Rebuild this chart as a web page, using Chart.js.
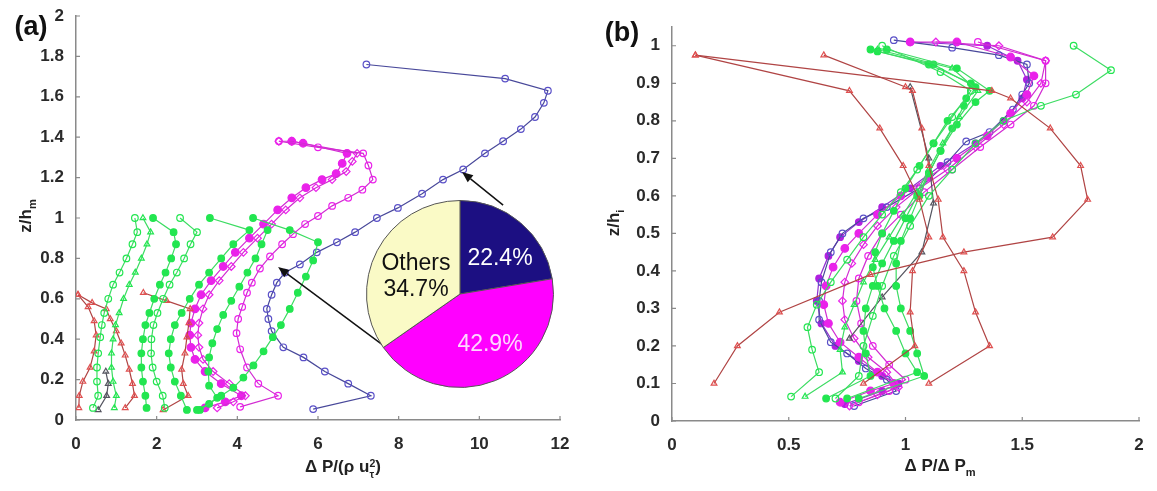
<!DOCTYPE html>
<html>
<head>
<meta charset="utf-8">
<script src="https://cdn.jsdelivr.net/npm/chart.js@4.4.1/dist/chart.umd.min.js"></script>
<style>
  body { margin: 0; background: #fff; }
  #wrap { position: relative; width: 1157px; height: 491px; overflow: hidden; font-family: 'Liberation Sans', Arial, sans-serif; }
  .box { position: absolute; }
  .txt { position: absolute; transform: translate(-50%, -50%); white-space: nowrap; color: #222; }
  .ttl { font-size: 17px; font-weight: bold; }
  .ttl sub { font-size: 0.65em; vertical-align: -0.45em; line-height: 0; }
  .stack { display: inline-block; vertical-align: -0.55em; font-size: 0.62em; line-height: 1em; text-align: left; }
  .stack span { display: block; }
  .panel { font-size: 27px; font-weight: bold; color: #111; }
  .pie { font-size: 23px; }
</style>
</head>
<body>
<div id="wrap">
  <div class="box" style="left:0;top:0;width:580px;height:491px"><canvas id="chartA"></canvas></div>
  <div class="box" style="left:580px;top:0;width:577px;height:491px"><canvas id="chartB"></canvas></div>
  <div class="box" style="left:366px;top:200px;width:188px;height:188px"><canvas id="pieChart"></canvas></div>

  <div class="txt panel" style="left:31px;top:26px">(a)</div>
  <div class="txt panel" style="left:622px;top:32px">(b)</div>

  <div class="txt ttl" style="left:26px;top:216px;transform:translate(-50%,-50%) rotate(-90deg)">z/h<sub>m</sub></div>
  <div class="txt ttl" style="left:343px;top:468px">&Delta; P/(&rho; u<span class="stack"><span>2</span><span>&tau;</span></span>)</div>
  <div class="txt ttl" style="left:614px;top:223px;transform:translate(-50%,-50%) rotate(-90deg)">z/h<sub>i</sub></div>
  <div class="txt ttl" style="left:940px;top:466px">&Delta; P/&Delta; P<sub>m</sub></div>

  <div class="txt pie" style="left:500px;top:257px;color:#fff">22.4%</div>
  <div class="txt pie" style="left:490px;top:343px;color:#ffd6ff">42.9%</div>
  <div class="txt pie" style="left:416px;top:262px;color:#111">Others</div>
  <div class="txt pie" style="left:416px;top:288px;color:#111">34.7%</div>
</div>

<script>
// ── tick values ─────────────────────────────────────────────────────
const ticksAX = [0, 2, 4, 6, 8, 10, 12];
const ticksAY = [0, 0.2, 0.4, 0.6, 0.8, 1, 1.2, 1.4, 1.6, 1.8, 2];
const ticksBX = [0, 0.5, 1, 1.5, 2];
const ticksBY = [0, 0.1, 0.2, 0.3, 0.4, 0.5, 0.6, 0.7, 0.8, 0.9, 1];

// ── panel (a): ΔP/(ρ u_τ²) vs z/h_m ────────────────────────────────
const redA1 = [[0.05,0.62],[0.4,0.58],[0.75,0.55],[0.85,0.5],[1.0,0.44],[1.12,0.38],[1.22,0.32],[1.32,0.25],[1.4,0.18],[1.45,0.12],[1.22,0.06]];
const redA2 = [[0.05,0.62],[0.3,0.56],[0.45,0.49],[0.5,0.42],[0.45,0.34],[0.35,0.26],[0.17,0.19],[0.08,0.12],[0.07,0.06]];
const redA3 = [[1.67,0.63],[2.25,0.59],[2.83,0.55],[2.8,0.48],[2.75,0.41],[2.7,0.33],[2.62,0.25],[2.66,0.18],[2.78,0.12],[2.16,0.05]];
const darkA = [[0.55,0.05],[0.76,0.12],[0.8,0.18],[0.74,0.24]];

const greenA1 = [[0.42,0.06],[0.55,0.12],[0.52,0.19],[0.52,0.26],[0.55,0.33],[0.6,0.41],[0.64,0.47],[0.7,0.53],[0.8,0.6],[0.92,0.67],[1.08,0.73],[1.25,0.8],[1.4,0.87],[1.52,0.93],[1.46,1.0]];
const greenA2 = [[0.95,0.06],[1.0,0.12],[0.92,0.19],[0.88,0.26],[0.88,0.33],[0.92,0.4],[0.98,0.47],[1.07,0.53],[1.18,0.6],[1.32,0.67],[1.47,0.73],[1.62,0.8],[1.76,0.87],[1.85,0.93],[1.66,1.0]];
const greenA3 = [[1.75,0.06],[1.72,0.12],[1.66,0.19],[1.62,0.26],[1.62,0.33],[1.66,0.4],[1.72,0.47],[1.82,0.53],[1.94,0.6],[2.08,0.67],[2.22,0.73],[2.36,0.8],[2.48,0.87],[2.42,0.93],[1.91,1.0]];
const greenA4 = [[2.2,0.06],[2.15,0.12],[2.0,0.19],[1.9,0.26],[1.86,0.33],[1.87,0.4],[1.92,0.47],[2.02,0.53],[2.16,0.6],[2.32,0.67],[2.5,0.73],[2.68,0.8],[2.84,0.87],[3.0,0.93],[2.58,1.0]];
const greenA5 = [[2.75,0.05],[2.6,0.12],[2.45,0.19],[2.35,0.26],[2.3,0.33],[2.35,0.4],[2.45,0.47],[2.62,0.53],[2.82,0.6],[3.05,0.67],[3.3,0.73],[3.6,0.8],[3.9,0.87],[4.3,0.94],[3.32,1.0]];
const greenA6 = [[3.07,0.05],[3.5,0.11],[3.3,0.17],[3.28,0.24],[3.3,0.31],[3.38,0.38],[3.5,0.45],[3.65,0.52],[3.85,0.59],[4.05,0.66],[4.25,0.73],[4.45,0.8],[4.6,0.87],[4.75,0.94]];
const greenA7 = [[3.0,0.05],[3.3,0.08],[3.6,0.12],[3.9,0.16],[4.15,0.21],[4.4,0.27],[4.65,0.34],[4.88,0.41],[5.08,0.47],[5.3,0.55],[5.5,0.63],[5.7,0.71],[5.88,0.79],[6.0,0.88],[5.3,0.94],[4.39,1.0]];

const magA1 = [[3.2,0.06],[3.7,0.09],[4.1,0.12],[3.6,0.18],[3.2,0.24],[2.95,0.3],[2.85,0.36],[2.82,0.42],[2.85,0.48],[2.95,0.55],[3.1,0.62],[3.35,0.69],[3.65,0.76],[3.95,0.83],[4.3,0.9],[4.65,0.97],[5.0,1.04],[5.35,1.1],[5.7,1.15],[6.1,1.19],[6.45,1.22],[6.6,1.27],[6.72,1.32],[5.63,1.37],[5.35,1.38]];
const magA2 = [[3.5,0.06],[3.9,0.09],[4.2,0.12],[3.8,0.18],[3.4,0.24],[3.15,0.3],[3.05,0.36],[3.02,0.42],[3.05,0.48],[3.15,0.55],[3.3,0.62],[3.55,0.69],[3.85,0.76],[4.15,0.83],[4.5,0.9],[4.85,0.97],[5.2,1.04],[5.55,1.1],[5.95,1.15],[6.35,1.19],[6.7,1.23],[6.85,1.28],[6.97,1.32],[5.35,1.38],[5.03,1.38]];
const magA3 = [[4.07,0.065],[5.01,0.12],[4.52,0.18],[4.24,0.26],[4.07,0.35],[3.98,0.43],[4.02,0.5],[4.12,0.56],[4.24,0.63],[4.36,0.68],[4.56,0.75],[4.81,0.81],[5.11,0.87],[5.38,0.92],[5.68,0.97],[6.0,1.01],[6.35,1.06],[6.75,1.1],[7.1,1.14],[7.36,1.19],[7.25,1.26],[7.12,1.32],[6.0,1.35],[5.03,1.38]];

const blueA = [[5.88,0.054],[7.31,0.12],[6.75,0.18],[6.17,0.24],[5.64,0.31],[5.14,0.36],[4.85,0.44],[4.77,0.5],[4.73,0.55],[4.85,0.62],[4.98,0.68],[5.18,0.73],[5.55,0.77],[5.97,0.83],[6.47,0.88],[6.92,0.93],[7.46,1.0],[7.98,1.05],[8.58,1.12],[9.1,1.19],[9.6,1.24],[10.14,1.32],[10.59,1.38],[11.03,1.44],[11.38,1.5],[11.6,1.57],[11.7,1.63],[10.64,1.69],[7.2,1.76]];

// ── panel (b): ΔP/ΔP_m vs z/h_i ─────────────────────────────────────
const redB1 = [[0.18,0.1],[0.28,0.2],[0.46,0.29],[0.85,0.39],[1.25,0.45],[1.63,0.49],[1.78,0.59],[1.75,0.68],[1.62,0.78],[1.45,0.86],[1.37,0.88],[0.1,0.975]];
const redB2 = [[0.1,0.975],[0.76,0.88],[0.89,0.78],[0.99,0.68],[1.06,0.59],[1.1,0.49],[1.03,0.4],[1.02,0.29],[1.04,0.2],[0.82,0.1]];
const redB3 = [[0.65,0.975],[1.0,0.89],[1.03,0.88],[1.07,0.78],[1.1,0.68],[1.14,0.59],[1.16,0.49],[1.25,0.4],[1.3,0.29],[1.36,0.2],[1.1,0.1]];
const darkB = [[0.76,0.22],[0.9,0.33],[1.07,0.45],[1.12,0.58],[1.1,0.7],[1.02,0.89]];

const greenB1 = [[0.51,0.065],[0.63,0.13],[0.6,0.19],[0.58,0.25],[0.62,0.31],[0.68,0.37],[0.75,0.43],[0.82,0.49],[0.9,0.55],[0.98,0.61],[1.05,0.67],[1.12,0.74],[1.2,0.81],[1.28,0.88],[1.15,0.93],[0.9,1.0]];
const greenB2 = [[0.57,0.065],[0.73,0.13],[0.72,0.19],[0.74,0.25],[0.78,0.31],[0.82,0.37],[0.87,0.43],[0.93,0.49],[0.99,0.55],[1.05,0.61],[1.1,0.67],[1.16,0.74],[1.23,0.81],[1.31,0.88],[1.2,0.94],[0.88,0.99]];
const greenB3 = [[0.66,0.06],[0.85,0.12],[0.83,0.18],[0.82,0.24],[0.83,0.3],[0.86,0.36],[0.9,0.42],[0.95,0.48],[1.0,0.54],[1.05,0.6],[1.1,0.66],[1.15,0.72],[1.22,0.79],[1.3,0.85],[1.36,0.88],[1.22,0.94],[0.92,0.99]];
const greenB4 = [[0.75,0.06],[1.05,0.13],[1.0,0.18],[0.96,0.24],[0.91,0.3],[0.88,0.36],[0.86,0.41],[0.87,0.45],[0.9,0.5],[0.95,0.56],[1.0,0.62],[1.06,0.68],[1.12,0.74],[1.18,0.8],[1.26,0.86],[1.28,0.9],[1.1,0.95],[0.85,0.99]];
const greenB5 = [[0.8,0.06],[1.08,0.12],[1.05,0.18],[1.02,0.24],[0.98,0.3],[0.96,0.36],[0.96,0.42],[0.98,0.48],[1.02,0.54],[1.06,0.6],[1.1,0.66],[1.15,0.72],[1.2,0.78],[1.25,0.84],[1.3,0.89],[1.12,0.95],[0.88,0.985]];
const greenB6 = [[0.7,0.06],[0.8,0.12],[0.82,0.2],[0.86,0.28],[0.9,0.36],[0.95,0.44],[1.02,0.52],[1.1,0.6],[1.2,0.67],[1.3,0.74],[1.42,0.8],[1.58,0.84],[1.73,0.87],[1.88,0.935],[1.72,1.0]];

const magB1 = [[0.72,0.05],[0.85,0.08],[0.95,0.1],[0.88,0.13],[0.8,0.17],[0.72,0.21],[0.67,0.26],[0.65,0.31],[0.66,0.36],[0.69,0.41],[0.74,0.46],[0.8,0.5],[0.88,0.55],[0.98,0.6],[1.1,0.65],[1.22,0.7],[1.35,0.76],[1.45,0.82],[1.52,0.87],[1.55,0.92],[1.45,0.97],[1.22,1.01],[1.02,1.01]];
const magB2 = [[0.76,0.04],[0.88,0.07],[0.97,0.09],[0.92,0.13],[0.84,0.17],[0.78,0.22],[0.74,0.27],[0.73,0.32],[0.74,0.37],[0.77,0.42],[0.82,0.47],[0.88,0.52],[0.96,0.57],[1.06,0.62],[1.18,0.67],[1.3,0.73],[1.42,0.79],[1.52,0.85],[1.58,0.9],[1.6,0.96],[1.4,1.0],[1.13,1.01]];
const magB3 = [[0.8,0.05],[0.93,0.08],[1.0,0.11],[0.93,0.15],[0.86,0.2],[0.81,0.26],[0.79,0.32],[0.8,0.38],[0.84,0.44],[0.9,0.5],[0.98,0.55],[1.08,0.61],[1.2,0.67],[1.32,0.73],[1.45,0.79],[1.55,0.84],[1.6,0.9],[1.6,0.96],[1.31,1.01]];
const magB4 = [[0.74,0.045],[0.9,0.08],[0.97,0.1],[0.9,0.12],[0.8,0.16],[0.7,0.2],[0.64,0.26],[0.62,0.32],[0.63,0.38],[0.67,0.44],[0.72,0.49],[0.8,0.53],[0.9,0.57],[1.02,0.62],[1.15,0.68],[1.3,0.74],[1.42,0.8],[1.5,0.86],[1.52,0.91],[1.48,0.96],[1.35,1.0],[1.02,1.01]];

const blueB = [[0.78,0.04],[0.96,0.08],[0.92,0.11],[0.83,0.14],[0.75,0.18],[0.68,0.21],[0.63,0.27],[0.63,0.32],[0.64,0.37],[0.68,0.45],[0.73,0.5],[0.82,0.54],[0.92,0.57],[1.06,0.62],[1.18,0.69],[1.26,0.745],[1.36,0.77],[1.46,0.83],[1.5,0.87],[1.53,0.9],[1.52,0.95],[1.4,0.975],[1.2,0.995],[0.95,1.015]];

// ── pie inset ───────────────────────────────────────────────────────
const pieLabels = ['22.4%', '42.9%', 'Others 34.7%'];
const pieValues = [22.4, 42.9, 34.7];

// arrows from the pie to the curves (data units of panel a)
const arrowsA = [
  { from: [7.61, 0.371], to: [5.01, 0.757] },
  { from: [10.59, 1.064], to: [9.57, 1.228] },
];

const RED = '#e05050', RED_LINE = '#b04444';
const GREEN = '#22e650', GREEN_LINE = '#3cdc62';
const MAG = '#ea22ea', MAG_LINE = '#d22cd2';
const BLUE = '#5a50c8', BLUE_LINE = '#48489a';
const DARK = '#555560';
const FONT = { family: "'Liberation Sans', Arial, sans-serif", size: 17, weight: 'bold' };
const TICK_COLOR = '#2a2a2a';
const AXIS_COLOR = '#8a8a8a';

const fmt = v => String(+(+v).toFixed(1));

function series(pairs, color, lineColor, style, filled, r) {
  return {
    data: pairs.map(p => ({ x: p[0], y: p[1] })),
    showLine: true,
    borderColor: lineColor,
    borderWidth: 1.2,
    tension: 0,
    pointStyle: style,
    pointRadius: r || 3.3,
    pointBorderColor: color,
    pointBackgroundColor: filled ? color : 'rgba(255,255,255,0)',
    pointBorderWidth: 1.2,
  };
}

// MATLAB style ticks pointing inwards
const inTicks = {
  id: 'inTicks',
  afterDraw(chart) {
    const { ctx, chartArea } = chart;
    const xs = chart.scales.x, ys = chart.scales.y;
    ctx.save();
    ctx.strokeStyle = AXIS_COLOR;
    ctx.lineWidth = 1.2;
    ctx.beginPath();
    xs.ticks.forEach(t => {
      const px = xs.getPixelForValue(t.value);
      ctx.moveTo(px, chartArea.bottom);
      ctx.lineTo(px, chartArea.bottom - 4);
    });
    ys.ticks.forEach(t => {
      const py = ys.getPixelForValue(t.value);
      ctx.moveTo(chartArea.left, py);
      ctx.lineTo(chartArea.left + 4, py);
    });
    ctx.stroke();
    ctx.restore();
  }
};

const arrows = {
  id: 'arrows',
  afterDatasetsDraw(chart, args, opts) {
    if (!opts.list) return;
    const { ctx } = chart;
    const xs = chart.scales.x, ys = chart.scales.y;
    ctx.save();
    ctx.strokeStyle = '#111';
    ctx.fillStyle = '#111';
    ctx.lineWidth = 1.5;
    opts.list.forEach(a => {
      const x0 = xs.getPixelForValue(a.from[0]), y0 = ys.getPixelForValue(a.from[1]);
      const x1 = xs.getPixelForValue(a.to[0]), y1 = ys.getPixelForValue(a.to[1]);
      const ang = Math.atan2(y1 - y0, x1 - x0);
      const hl = 11, hw = 4.5;
      const bx = x1 - hl * Math.cos(ang), by = y1 - hl * Math.sin(ang);
      ctx.beginPath();
      ctx.moveTo(x0, y0);
      ctx.lineTo(bx, by);
      ctx.stroke();
      ctx.beginPath();
      ctx.moveTo(x1, y1);
      ctx.lineTo(bx + hw * Math.sin(ang), by - hw * Math.cos(ang));
      ctx.lineTo(bx - hw * Math.sin(ang), by + hw * Math.cos(ang));
      ctx.closePath();
      ctx.fill();
    });
    ctx.restore();
  }
};

function axes(xMax, xTicks, yMax, yTicks, yWidth, xHeight) {
  const common = {
    type: 'linear',
    min: 0,
    grid: { display: false },
    border: { display: true, color: AXIS_COLOR, width: 1.5 },
  };
  return {
    x: {
      ...common, max: xMax,
      ticks: { font: FONT, color: TICK_COLOR, padding: 6, maxRotation: 0, callback: fmt },
      afterBuildTicks: s => { s.ticks = xTicks.map(v => ({ value: v })); },
      afterFit: s => { s.height = xHeight; },
    },
    y: {
      ...common, max: yMax,
      ticks: { font: FONT, color: TICK_COLOR, padding: 4, callback: fmt },
      afterBuildTicks: s => { s.ticks = yTicks.map(v => ({ value: v })); },
      afterFit: s => { s.width = yWidth; },
    },
  };
}

new Chart(document.getElementById('chartA'), {
  type: 'scatter',
  data: {
    datasets: [
      series(greenA1, GREEN, GREEN_LINE, 'circle', false),
      series(greenA2, GREEN, GREEN_LINE, 'triangle', false),
      series(greenA3, GREEN, GREEN_LINE, 'circle', true),
      series(greenA4, GREEN, GREEN_LINE, 'circle', false),
      series(greenA5, GREEN, GREEN_LINE, 'circle', true),
      series(greenA6, GREEN, GREEN_LINE, 'circle', true),
      series(greenA7, GREEN, GREEN_LINE, 'circle', true),
      series(redA1, RED, RED_LINE, 'triangle', false),
      series(redA2, RED, RED_LINE, 'triangle', false),
      series(redA3, RED, RED_LINE, 'triangle', false),
      series(darkA, DARK, DARK, 'triangle', false),
      series(magA3, MAG, MAG_LINE, 'circle', false),
      series(magA2, MAG, MAG_LINE, 'rectRot', false, 3.8),
      series(magA1, MAG, MAG_LINE, 'circle', true, 3.8),
      series(blueA, BLUE, BLUE_LINE, 'circle', false),
    ]
  },
  options: {
    animation: false,
    responsive: true,
    maintainAspectRatio: false,
    layout: { padding: { left: 0, right: 20, top: 16, bottom: 0 } },
    plugins: { legend: { display: false }, tooltip: { enabled: false }, arrows: { list: arrowsA } },
    scales: axes(12, ticksAX, 2, ticksAY, 76, 71),
  },
  plugins: [inTicks, arrows],
});

new Chart(document.getElementById('chartB'), {
  type: 'scatter',
  data: {
    datasets: [
      series(redB1, RED, RED_LINE, 'triangle', false),
      series(redB2, RED, RED_LINE, 'triangle', false),
      series(redB3, RED, RED_LINE, 'triangle', false),
      series(greenB1, GREEN, GREEN_LINE, 'circle', false),
      series(greenB2, GREEN, GREEN_LINE, 'triangle', false),
      series(greenB3, GREEN, GREEN_LINE, 'circle', true),
      series(greenB4, GREEN, GREEN_LINE, 'circle', true),
      series(greenB5, GREEN, GREEN_LINE, 'circle', true),
      series(greenB6, GREEN, GREEN_LINE, 'circle', false),
      series(darkB, DARK, DARK, 'triangle', false),
      series(magB3, MAG, MAG_LINE, 'circle', false),
      series(magB2, MAG, MAG_LINE, 'rectRot', false, 3.8),
      series(magB1, MAG, MAG_LINE, 'circle', true, 3.8),
      series(blueB, BLUE, BLUE_LINE, 'circle', false),
      series(magB4, '#b020e0', '#9030d0', 'circle', true),
    ]
  },
  options: {
    animation: false,
    responsive: true,
    maintainAspectRatio: false,
    layout: { padding: { left: 0, right: 18, top: 27, bottom: 0 } },
    plugins: { legend: { display: false }, tooltip: { enabled: false } },
    scales: axes(2, ticksBX, 1.05, ticksBY, 92, 70),
  },
  plugins: [inTicks],
});

new Chart(document.getElementById('pieChart'), {
  type: 'pie',
  data: {
    labels: pieLabels,
    datasets: [{
      data: pieValues,
      backgroundColor: ['#1c0f82', '#ff00ff', '#fafac6'],
      borderColor: '#555',
      borderWidth: 1,
    }]
  },
  options: {
    animation: false,
    responsive: true,
    maintainAspectRatio: false,
    layout: { padding: 0 },
    plugins: { legend: { display: false }, tooltip: { enabled: false } },
  },
});
</script>
</body>
</html>
